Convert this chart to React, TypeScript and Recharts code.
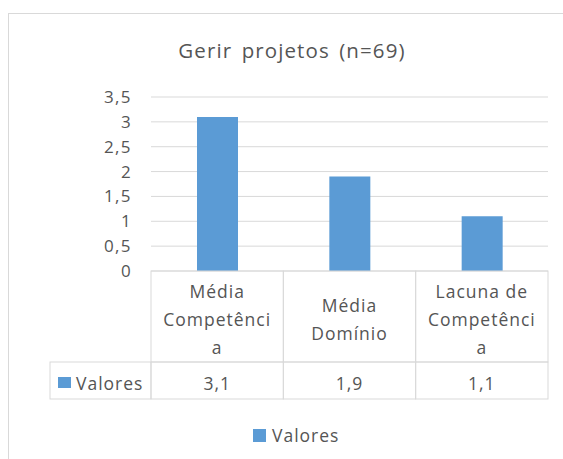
import React from "react";
import { Bar, BarChart, CartesianGrid, Legend, XAxis, YAxis } from "recharts";

// ─── data ────────────────────────────────────────────────────────────────────
const title = "Gerir projetos (n=69)";
const seriesName = "Valores";
const categories = ["Média Competência", "Média Domínio", "Lacuna de Competência"];
const values = [3.1, 1.9, 1.1];
const yTicks = [0, 0.5, 1, 1.5, 2, 2.5, 3, 3.5];

const data = categories.map((name, i) => ({ name, value: values[i] }));

// ─── look ────────────────────────────────────────────────────────────────────
const W = 563;
const H = 459;
const FONT = "'Open Sans', Lato, sans-serif";
const TEXT = "#555555";
const GRID = "#d9d9d9";
const BLUE = "#5b9bd5";

const PLOT_LEFT = 151;
const PLOT_RIGHT = 15;
const PLOT_W = W - PLOT_LEFT - PLOT_RIGHT;
const CAT_H = 91; // category row of the data table
const VAL_H = 37; // values row
const LINE_H = 28;
const HEADER_W = 101;

const fmt = (v: number) => String(v).replace(".", ",");

// Excel-ish wrapping: words, then hard break of long words
function wrap(label: string, max: number) {
  const lines: string[] = [];
  let cur = "";
  for (const w of label.split(" ")) {
    const next = cur ? cur + " " + w : w;
    if (next.length <= max) {
      cur = next;
      continue;
    }
    if (cur) lines.push(cur);
    let rest = w;
    while (rest.length > max) {
      lines.push(rest.slice(0, max));
      rest = rest.slice(max);
    }
    cur = rest;
  }
  if (cur) lines.push(cur);
  return lines;
}

const cellText = { fill: TEXT, fontSize: 17.5, fontFamily: FONT, letterSpacing: 1 };

function TableTick(props: any) {
  const { x, y, payload } = props;
  const index = props.index ?? payload?.index ?? 0;
  const bw = payload?.offset ? payload.offset * 2 : PLOT_W / categories.length;
  const x0 = x - bw / 2;
  const lines = wrap(String(payload.value), 10);
  const mid = y + 47.5;
  const start = mid - ((lines.length - 1) * LINE_H) / 2;
  const valY = y + CAT_H + VAL_H / 2 + 2;

  return (
    <g>
      <rect x={x0} y={y} width={bw} height={CAT_H} fill="none" stroke={GRID} />
      <rect x={x0} y={y + CAT_H} width={bw} height={VAL_H} fill="none" stroke={GRID} />
      {lines.map((l, i) => (
        <text key={i} x={x} y={start + i * LINE_H} textAnchor="middle" dominantBaseline="central" {...cellText}>
          {l}
        </text>
      ))}
      <text x={x} y={valY} textAnchor="middle" dominantBaseline="central" {...cellText}>
        {fmt(values[index])}
      </text>
      {index === 0 && (
        <g>
          <rect x={x0 - HEADER_W} y={y + CAT_H} width={HEADER_W} height={VAL_H} fill="none" stroke={GRID} />
          <rect x={x0 - HEADER_W + 8} y={y + CAT_H + 15} width={13} height={11} fill={BLUE} />
          <text x={x0 - HEADER_W + 26} y={valY} dominantBaseline="central" {...cellText}>
            {seriesName}
          </text>
        </g>
      )}
    </g>
  );
}

function LegendBox() {
  return (
    <div style={{ display: "flex", alignItems: "center", height: 24, paddingLeft: 253 }}>
      <span style={{ width: 13, height: 13, background: BLUE, display: "inline-block" }} />
      <span style={{ marginLeft: 6, color: TEXT, fontSize: 17.5, fontFamily: FONT, letterSpacing: 1 }}>{seriesName}</span>
    </div>
  );
}

export default function App() {
  return (
    <div style={{ position: "fixed", left: 0, top: 0, width: W, height: H, overflow: "hidden", background: "#fff" }}>
      <div style={{ position: "absolute", left: 8, top: 13, width: 620, height: 520, border: `1px solid ${GRID}` }} />
      <div
        style={{
          position: "absolute",
          left: 0,
          top: 36,
          width: 584,
          textAlign: "center",
          color: TEXT,
          fontFamily: FONT,
          fontSize: 20.5,
          lineHeight: "normal",
          letterSpacing: 1.1,
          wordSpacing: 3,
        }}
      >
        {title}
      </div>
      <div style={{ position: "absolute", left: 0, top: 0 }}>
        <BarChart width={W} height={H} data={data} margin={{ top: 97, right: PLOT_RIGHT, left: 0, bottom: 12 }}>
          <CartesianGrid horizontal vertical={false} stroke={GRID} />
          <XAxis
            dataKey="name"
            height={152}
            interval={0}
            axisLine={false}
            tickLine={false}
            tickSize={0}
            tickMargin={0}
            tick={<TableTick />}
          />
          <YAxis
            width={PLOT_LEFT}
            domain={[0, 3.5]}
            ticks={yTicks}
            interval={0}
            tickFormatter={fmt}
            axisLine={false}
            tickLine={false}
            tickSize={6}
            tickMargin={13}
            tick={{ fill: TEXT, fontSize: 17, fontFamily: FONT, letterSpacing: 1.4 }}
          />
          <Bar dataKey="value" name={seriesName} fill={BLUE} barSize={41} isAnimationActive={false} />
          <Legend verticalAlign="bottom" content={<LegendBox />} />
        </BarChart>
      </div>
    </div>
  );
}
